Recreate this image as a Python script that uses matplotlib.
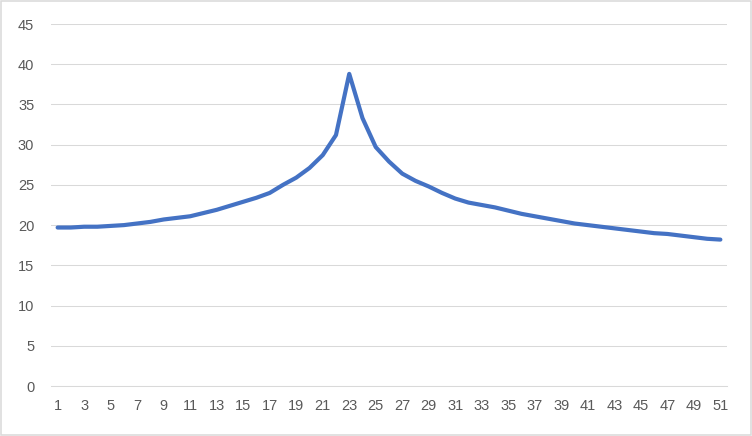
import matplotlib
matplotlib.use("Agg")
import matplotlib.pyplot as plt
from matplotlib.patches import Rectangle

categories = list(range(1, 52))
values = [19.7, 19.7, 19.8, 19.8, 19.9, 20.0, 20.2, 20.4, 20.7, 20.9,
          21.1, 21.5, 21.9, 22.4, 22.9, 23.4, 24.0, 25.0, 25.9, 27.1,
          28.7, 31.2, 38.8, 33.3, 29.7, 27.9, 26.4, 25.5, 24.8, 24.0,
          23.3, 22.8, 22.5, 22.2, 21.8, 21.4, 21.1, 20.8, 20.5, 20.2,
          20.0, 19.8, 19.6, 19.4, 19.2, 19.0, 18.9, 18.7, 18.5, 18.3, 18.2]
y_ticks = list(range(0, 50, 5))
x_labels = [str(c) if c % 2 == 1 else "" for c in categories]

plt.rcParams['font.family'] = ["Liberation Sans", "DejaVu Sans"]

fig = plt.figure(figsize=(7.52, 4.36), dpi=100)
ax = fig.add_axes([51/752, 50/436, 676/752, 362/436])
xs = list(range(len(categories)))
ax.plot(xs, values, color="#4472C4", lw=3.0, solid_capstyle="round", solid_joinstyle="round", zorder=3)
ax.set_xlim(-0.5, len(categories) - 0.5)
ax.set_ylim(0, 45)
ax.set_yticks(y_ticks)
ax.set_xticks(xs)
ax.set_xticklabels(x_labels)
ax.grid(axis="y", color="#D9D9D9", lw=0.75)
ax.set_axisbelow(True)
for s in ["top", "right", "left"]:
    ax.spines[s].set_visible(False)
ax.spines["bottom"].set_color("#D9D9D9")
ax.spines["bottom"].set_linewidth(0.75)
ax.tick_params(axis="both", length=0, labelsize=10.5, labelcolor="#595959")
ax.tick_params(axis="y", pad=12)
ax.tick_params(axis="x", pad=9)
fig.patches.append(Rectangle((0.75/752, 0.75/436), 1 - 1.5/752, 1 - 1.5/436, transform=fig.transFigure,
                             fill=False, edgecolor="#D9D9D9", lw=1.1))
fig.savefig("out.png", dpi=100)
